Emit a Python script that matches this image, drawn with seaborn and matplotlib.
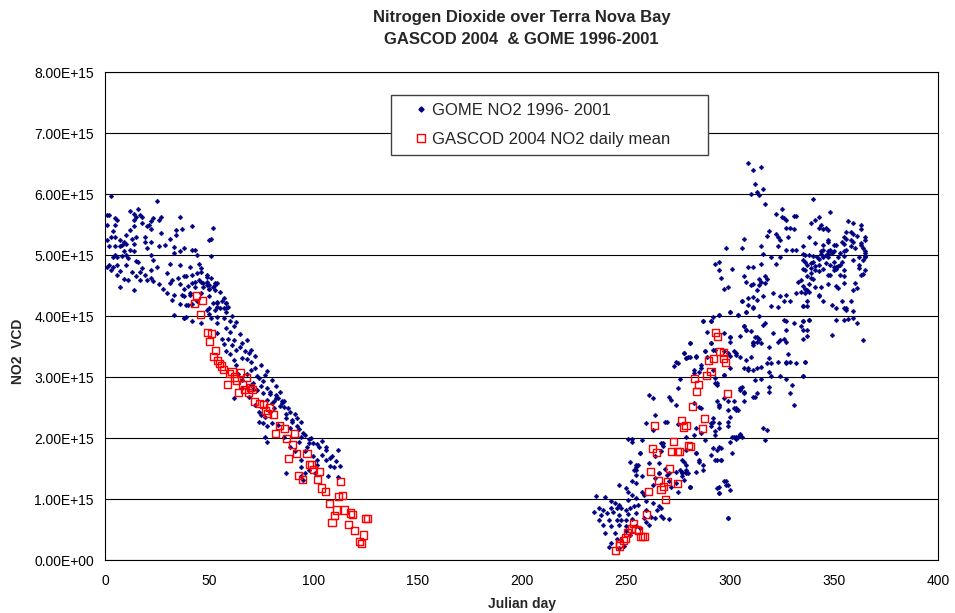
import numpy as np
import matplotlib
matplotlib.use("Agg")
import matplotlib.pyplot as plt
from matplotlib.lines import Line2D
from matplotlib.ticker import FuncFormatter
import seaborn as sns

sns.set_style("white")
plt.rcParams["font.family"] = ["Liberation Sans", "DejaVu Sans"]

SCALE = 1e15  # vertical column densities below are in units of 1e15 molec/cm2

# GOME NO2 1996-2001: Julian day and vertical column density
gome_day = [
    # summer/autumn decline, days 0-60
    3, 25, 2, 1, 12, 16, 14, 17, 15, 18, 36, 5, 6, 14, 23, 27, 26, 22, 18, 21,
    1, 5, 14, 20, 42, 34, 37, 52, 4, 12, 22, 27, 10, 3, 5, 15, 19, 31, 34, 50,
    51, 7, 13, 1, 9, 19, 22, 8, 10, 14, 26, 29, 33, 38, 42, 2, 5, 7, 20, 43,
    12, 9, 14, 33, 36, 5, 8, 10, 22, 44, 51, 4, 6, 11, 15, 16, 23, 31, 36, 41,
    45, 2, 6, 10, 18, 22, 25, 46, 46, 4, 1, 3, 7, 13, 17, 19, 22, 30, 38, 42,
    49, 6, 15, 11, 17, 20, 9, 23, 32, 35, 43, 46, 49, 50, 54, 7, 14, 26, 28, 36,
    40, 47, 50, 53, 30, 33, 37, 41, 46, 31, 32, 36, 40, 42, 54, 50, 53, 58, 58, 44,
    33, 38, 42, 46,
    # days 38-85
    39, 44, 45, 49, 51, 53, 47, 49, 42, 43, 38, 41, 38, 39, 50, 52, 53, 50, 54, 56,
    58, 52, 54, 49, 55, 57, 58, 50, 38, 39, 51, 54, 57, 60, 54, 62, 58, 60, 54, 56,
    59, 62, 61, 57, 66, 65, 63, 67, 69, 58, 60, 66, 68, 70, 62, 70, 68, 73, 76, 75,
    66, 78, 79, 82, 81, 85, 84, 80, 62, 77, 64, 66, 71, 72, 74, 63, 69, 71,
    # outer edge of the decline
    55, 57, 59, 61, 63, 65, 68, 70, 72, 75, 78, 80, 82, 84, 86, 88, 90, 93, 96, 99,
    97, 100, 103, 104, 106, 109, 111,
    # days 70-113
    70, 73, 76, 79, 82, 83, 85, 86, 78, 72, 74, 75, 77, 79, 81, 87, 89, 91, 92, 94,
    90, 87, 74, 76, 78, 80, 83, 89, 92, 95, 98, 98, 100, 102, 106, 112, 94, 93, 86, 77,
    78, 89, 91, 96, 104, 106, 108, 102, 102, 108, 110, 113, 94, 94, 87, 98, 107, 112, 101, 96,
    95, 94,
    # spring return, days 235-281
    236, 260, 269, 275, 251, 258, 253, 268, 267, 257, 277, 252, 255, 255, 256, 266, 269, 277, 279, 274,
    264, 247, 253, 255, 250, 251, 263, 272, 281, 278, 271, 258, 259, 260, 253, 255, 251, 240, 243, 245,
    247, 248, 237, 239, 243, 246, 250, 252, 254, 256, 263, 265, 266, 267, 260, 235, 238, 241, 244, 247,
    251, 255, 262, 267, 268, 264, 237, 242, 246, 248, 250, 253, 259, 271, 260, 239, 243, 247, 250, 255,
    261, 257, 240, 245, 250, 252, 246, 248, 243, 242, 247, 249,
    # days 253-315
    261, 263, 264, 263, 270, 271, 272, 274, 276, 275, 274, 275, 273, 278, 279, 280, 281, 283, 284, 285,
    286, 288, 289, 291, 292, 287, 289, 291, 295, 297, 300, 300, 304, 307, 308, 308, 309, 311, 313, 306,
    312, 311, 313, 293, 294, 297, 300, 302, 303, 308, 309, 313, 305, 307, 311, 312, 315, 294, 295, 302,
    303, 291, 292, 295, 295, 299, 301, 303, 305, 293, 284, 286, 284, 285, 284, 280, 277, 276, 279, 274,
    275, 279, 281, 294, 296, 295, 291, 301, 298, 299, 295, 295, 299, 306,
    253, 257, 255, 254, 255, 258, 261, 266, 266, 270, 271, 264, 267, 268,
    # days 277-339
    297, 299, 308, 310, 311, 314, 315, 317, 313, 321, 324, 327, 329, 332, 334, 336, 338, 333, 306, 309,
    311, 316, 320, 323, 326, 335, 337, 311, 308, 300, 304, 295, 292, 291, 287, 314, 317, 316, 321, 326,
    327, 327, 331, 335, 337, 335, 338, 307, 308, 310, 305, 300, 300, 291, 313, 314, 311, 311, 315, 310,
    305, 303, 299, 300, 297, 293, 288, 284, 281, 279, 278, 281, 319, 323, 324, 326, 327, 328, 319, 318,
    320, 323, 327, 327, 329, 332, 336, 297, 292, 286, 283, 311, 307, 309, 315, 319, 320, 324, 327, 330,
    335, 305, 306, 307, 293, 294, 297, 299, 302, 307, 303, 304, 312, 313, 319, 319, 329, 331, 285, 286,
    283, 295, 295, 299, 300, 291, 292, 293, 299, 302, 303, 304, 305, 300, 316, 318, 317, 279, 279, 283,
    288, 292, 294, 296, 296, 293, 284, 285, 287, 287, 278, 277, 279, 281, 297, 298, 300, 294, 295, 299,
    # days 292-333, high values
    309, 311, 315, 312, 316, 310, 313, 314, 317, 322, 325, 326, 327, 331, 332, 325, 319, 322, 323, 324,
    327, 329, 331, 328, 318, 307, 298, 306, 315, 323, 327, 320, 316, 324, 330, 332, 293, 295, 295, 301,
    296, 307, 309, 311, 315, 322, 314, 317, 318,
    # days 334-365
    340, 348, 343, 341, 339, 344, 343, 345, 346, 347, 338, 357, 359, 363, 363, 356, 358, 359, 361, 365,
    365, 355, 356, 358, 359, 354, 355, 363, 363, 341, 345, 347, 347, 350, 351, 360, 364, 365, 345, 347,
    348, 350, 344, 344, 346, 347, 349, 353, 355, 356, 358, 335, 335, 336, 338, 340, 342, 343, 345, 347,
    350, 352, 355, 365, 365, 365, 362, 364, 359, 335, 336, 337, 339, 340, 341, 343, 346, 348, 350, 351,
    352, 353, 354, 351, 350, 335, 336, 339, 339, 341, 343, 345, 347, 348, 353, 355, 362, 362, 365, 364,
    363, 334, 337, 340, 339, 335, 338, 341, 344, 347, 351, 352, 355, 360, 361, 359, 355, 336, 337, 343,
    343, 345, 349, 351, 354, 355, 356, 358, 359, 356, 335, 337, 335, 334, 338, 351, 355, 357, 359, 361,
    349, 335, 337, 364, 336, 335,
]
gome_vcd = [
    5.97, 5.88, 5.66, 5.65, 5.72, 5.75, 5.67, 5.65, 5.63, 5.63, 5.63, 5.60, 5.57, 5.57, 5.61, 5.63, 5.57, 5.56, 5.52, 5.50,
    5.49, 5.50, 5.48, 5.47, 5.48, 5.41, 5.43, 5.44, 5.39, 5.41, 5.43, 5.36, 5.33, 5.30, 5.30, 5.30, 5.30, 5.27, 5.33, 5.25,
    5.26, 5.25, 5.27, 5.25, 5.22, 5.22, 5.22, 5.16, 5.18, 5.18, 5.14, 5.16, 5.13, 5.11, 5.08, 5.14, 5.14, 5.14, 5.11, 5.08,
    5.08, 5.07, 5.06, 5.03, 5.06, 5.00, 4.99, 5.00, 5.00, 5.00, 4.99, 4.96, 4.96, 4.95, 4.90, 4.88, 4.92, 4.86, 4.84, 4.81,
    4.85, 4.84, 4.84, 4.84, 4.78, 4.76, 4.81, 4.78, 4.72, 4.81, 4.81, 4.76, 4.73, 4.72, 4.72, 4.67, 4.63, 4.70, 4.65, 4.67,
    4.67, 4.67, 4.65, 4.59, 4.59, 4.59, 4.61, 4.58, 4.59, 4.62, 4.56, 4.56, 4.56, 4.51, 4.54, 4.47, 4.43, 4.52, 4.45, 4.52,
    4.50, 4.48, 4.44, 4.51, 4.37, 4.35, 4.35, 4.37, 4.37, 4.54, 4.26, 4.19, 4.18, 4.19, 4.22, 4.13, 4.10, 4.21, 4.13, 4.24,
    4.02, 3.97, 3.91, 3.89,
    4.66, 4.70, 4.59, 4.64, 4.63, 4.54, 4.54, 4.51, 4.54, 4.48, 4.45, 4.34, 4.32, 4.18, 4.45, 4.48, 4.43, 4.33, 4.23, 4.25,
    4.21, 4.21, 4.15, 4.10, 4.13, 4.13, 4.07, 4.04, 3.96, 3.99, 3.96, 3.99, 3.96, 3.91, 3.88, 3.83, 3.80, 3.74, 3.72, 3.63,
    3.62, 3.60, 3.53, 3.54, 3.55, 3.49, 3.44, 3.42, 3.39, 3.42, 3.38, 3.31, 3.29, 3.24, 3.28, 3.12, 3.05, 3.01, 2.94, 2.85,
    2.82, 2.82, 2.72, 2.65, 2.61, 2.60, 2.52, 2.57, 2.65, 3.03, 3.05, 2.95, 2.90, 3.15, 2.98, 3.20, 2.68, 2.80,
    4.40, 4.30, 4.15, 4.00, 3.90, 3.70, 3.60, 3.45, 3.35, 3.20, 3.10, 2.95, 2.85, 2.75, 2.60, 2.50, 2.30, 2.15, 2.05, 2.00,
    1.85, 1.70, 1.85, 1.95, 1.80, 1.70, 1.62,
    2.87, 2.79, 2.73, 2.76, 2.71, 2.65, 2.57, 2.51, 2.62, 2.54, 2.43, 2.38, 2.35, 2.43, 2.49, 2.40, 2.43, 2.40, 2.32, 2.27,
    2.27, 2.32, 2.27, 2.24, 2.19, 2.24, 2.21, 2.16, 2.19, 2.08, 1.99, 1.91, 1.91, 1.90, 1.86, 1.80, 2.02, 1.94, 2.02, 2.01,
    1.94, 1.86, 1.79, 1.78, 1.72, 1.64, 1.67, 1.64, 1.56, 1.54, 1.52, 1.54, 1.64, 1.53, 1.43, 1.48, 1.38, 1.36, 1.42, 1.43,
    1.31, 1.37,
    1.05, 2.25, 2.27, 2.23, 1.99, 1.97, 1.94, 1.91, 1.78, 1.75, 1.64, 1.61, 1.53, 1.48, 1.56, 1.42, 1.50, 1.42, 1.48, 1.45,
    1.34, 1.23, 1.29, 1.26, 1.18, 1.12, 1.23, 1.20, 1.20, 1.31, 1.29, 1.12, 1.07, 0.96, 1.07, 1.01, 0.99, 1.04, 0.96, 0.93,
    0.90, 0.86, 0.86, 0.82, 0.85, 0.85, 0.82, 0.85, 0.89, 0.90, 0.93, 0.82, 0.89, 0.86, 0.82, 0.79, 0.74, 0.77, 0.78, 0.74,
    0.76, 0.77, 0.71, 0.72, 0.69, 0.69, 0.65, 0.66, 0.66, 0.66, 0.66, 0.67, 0.69, 0.67, 0.63, 0.58, 0.55, 0.58, 0.55, 0.55,
    0.58, 0.52, 0.44, 0.44, 0.47, 0.41, 0.34, 0.33, 0.28, 0.22, 0.19, 0.23,
    2.71, 2.65, 2.38, 2.13, 2.27, 2.68, 2.62, 2.54, 2.96, 2.82, 3.25, 3.23, 3.18, 3.39, 3.31, 3.33, 3.55, 3.12, 3.33, 3.09,
    3.20, 3.42, 3.33, 3.55, 3.44, 3.91, 3.74, 3.91, 4.02, 3.72, 3.66, 4.07, 4.02, 3.83, 4.07, 3.77, 4.18, 4.13, 4.26, 4.25,
    3.66, 3.55, 3.58, 2.98, 2.90, 3.03, 3.14, 3.42, 3.39, 3.28, 3.14, 3.14, 2.79, 2.76, 2.68, 2.95, 3.17, 2.60, 2.54, 2.49,
    2.46, 2.24, 2.32, 2.24, 2.16, 2.27, 2.02, 2.02, 2.05, 2.11, 2.16, 2.08, 1.75, 1.64, 1.45, 1.42, 1.37, 1.48, 1.45, 1.26,
    1.12, 1.56, 1.20, 1.64, 1.64, 1.86, 1.72, 1.75, 1.29, 1.23, 1.20, 1.10, 0.69, 2.02,
    1.99, 1.75, 1.56, 1.48, 1.40, 1.37, 1.59, 1.59, 1.42, 1.40, 1.42, 1.70, 1.91, 1.87,
    4.45, 4.47, 4.56, 4.51, 4.52, 4.51, 4.55, 4.54, 4.43, 4.37, 4.33, 4.34, 4.25, 4.37, 4.40, 4.44, 4.40, 4.56, 4.25, 4.29,
    4.31, 4.32, 4.16, 4.15, 4.25, 4.16, 4.25, 4.14, 4.07, 4.07, 4.02, 4.02, 3.98, 3.91, 3.92, 4.00, 3.88, 3.85, 3.72, 3.93,
    3.91, 3.77, 3.88, 3.91, 3.77, 3.77, 3.93, 3.83, 3.77, 3.76, 3.67, 3.66, 3.58, 3.56, 3.66, 3.63, 3.58, 3.53, 3.55, 3.33,
    3.33, 3.36, 3.39, 3.35, 3.42, 3.44, 3.43, 3.35, 3.33, 3.31, 3.39, 3.56, 3.50, 3.58, 3.61, 3.63, 3.58, 3.38, 3.31, 3.23,
    3.23, 3.25, 3.25, 3.23, 3.25, 3.23, 3.25, 3.03, 3.12, 3.14, 3.07, 3.12, 3.14, 3.12, 2.96, 3.09, 3.01, 3.01, 2.97, 2.87,
    3.01, 2.82, 2.84, 2.74, 2.90, 2.87, 2.65, 2.60, 2.60, 2.60, 2.49, 2.46, 2.68, 2.73, 2.84, 2.76, 2.73, 2.54, 2.51, 2.49,
    2.57, 2.54, 2.51, 2.46, 2.35, 2.19, 2.27, 2.05, 2.19, 2.02, 1.99, 2.02, 2.07, 1.94, 2.16, 2.13, 1.97, 2.02, 1.80, 2.05,
    1.97, 1.83, 1.80, 1.83, 1.64, 1.64, 1.75, 1.61, 1.56, 1.48, 1.61, 1.45, 1.43, 1.20, 1.29, 1.23, 1.15, 1.18, 1.10, 0.69,
    6.51, 6.39, 6.44, 6.16, 6.09, 6.00, 6.04, 5.98, 5.84, 5.67, 5.75, 5.60, 5.57, 5.64, 5.64, 5.63, 5.39, 5.35, 5.29, 5.25,
    5.44, 5.45, 5.42, 5.29, 5.31, 5.26, 5.11, 5.12, 5.15, 5.14, 5.09, 4.97, 5.02, 4.96, 5.08, 5.08, 4.86, 4.88, 4.75, 4.77,
    4.62, 4.65, 4.81, 4.80, 4.85, 4.86, 4.60, 4.66, 4.60,
    5.91, 5.71, 5.63, 5.57, 5.52, 5.49, 5.44, 5.42, 5.44, 5.41, 5.30, 5.56, 5.52, 5.49, 5.42, 5.38, 5.37, 5.35, 5.31, 5.30,
    5.24, 5.30, 5.27, 5.24, 5.22, 5.22, 5.18, 5.19, 5.17, 5.19, 5.17, 5.24, 5.22, 5.17, 5.17, 5.11, 5.11, 5.06, 5.08, 5.06,
    5.08, 5.07, 5.06, 5.02, 5.00, 5.02, 5.03, 5.03, 5.06, 5.08, 5.14, 5.14, 5.02, 5.00, 5.00, 4.99, 4.97, 4.93, 4.96, 4.96,
    4.89, 4.96, 4.99, 5.04, 4.99, 4.96, 4.96, 4.92, 4.92, 4.92, 4.89, 4.84, 4.87, 4.89, 4.82, 4.84, 4.87, 4.84, 4.80, 4.81,
    4.82, 4.84, 4.89, 4.77, 4.76, 4.77, 4.75, 4.78, 4.70, 4.76, 4.73, 4.77, 4.67, 4.67, 4.67, 4.76, 4.84, 4.78, 4.75, 4.69,
    4.67, 4.59, 4.65, 4.60, 4.62, 4.49, 4.53, 4.48, 4.47, 4.53, 4.49, 4.46, 4.54, 4.54, 4.46, 4.42, 4.65, 4.37, 4.43, 4.35,
    4.33, 4.24, 4.18, 4.13, 4.24, 4.13, 4.13, 4.24, 4.08, 4.10, 4.16, 4.16, 3.91, 3.84, 3.93, 3.93, 3.93, 3.95, 3.96, 3.88,
    3.69, 3.62, 3.67, 3.60, 3.25, 3.01,
]

# GASCOD 2004 NO2 daily means
gascod_day = [
    44, 47, 43, 46, 49, 51, 50, 53, 52, 54, 56, 57, 61, 65, 62, 68, 59, 66, 70, 64,
    72, 74, 77, 79, 81, 84, 82, 86, 87, 91, 90, 88, 92, 97, 93, 95, 98, 100, 102, 104,
    106, 113, 112, 108, 111, 115, 118, 110, 109, 117, 120, 124, 122, 123, 125, 126,
    55, 60, 63, 67, 69, 76, 78, 71, 99, 103, 114, 119,
    293, 294, 295, 297, 297, 298, 290, 292, 291, 289, 283, 285, 284, 299, 282, 288, 287, 277, 279, 278,
    264, 273, 280, 281, 263, 265, 272, 275, 276, 271, 262, 266, 268, 267, 270, 275, 261, 269, 260, 254,
    253, 255, 256, 258, 257, 259, 251, 250, 249, 247, 247, 245,
]
gascod_vcd = [
    4.34, 4.26, 4.21, 4.02, 3.73, 3.72, 3.58, 3.43, 3.34, 3.27, 3.18, 3.13, 3.09, 3.07, 3.00, 2.99, 2.88, 2.87, 2.83, 2.74,
    2.60, 2.57, 2.45, 2.50, 2.38, 2.21, 2.07, 2.16, 1.99, 2.07, 1.89, 1.67, 1.74, 1.75, 1.39, 1.32, 1.56, 1.48, 1.32, 1.18,
    1.12, 1.28, 1.04, 0.93, 0.82, 0.82, 0.77, 0.73, 0.61, 0.58, 0.48, 0.41, 0.30, 0.27, 0.68, 0.68,
    3.22, 3.05, 2.95, 2.80, 2.75, 2.55, 2.40, 2.79, 1.56, 1.45, 1.05, 0.74,
    3.73, 3.66, 3.42, 3.40, 3.31, 3.24, 3.27, 3.31, 3.09, 3.02, 2.98, 2.88, 2.76, 2.73, 2.52, 2.32, 2.16, 2.28, 2.20, 2.18,
    2.20, 1.94, 1.87, 1.86, 1.83, 1.76, 1.78, 1.78, 1.78, 1.50, 1.45, 1.30, 1.21, 1.15, 1.28, 1.26, 1.12, 0.99, 0.75, 0.60,
    0.52, 0.50, 0.48, 0.39, 0.38, 0.39, 0.45, 0.36, 0.32, 0.27, 0.23, 0.16,
]

gome_label = "GOME NO2 1996- 2001"
gascod_label = "GASCOD 2004 NO2 daily mean"
x_ticks = [0, 50, 100, 150, 200, 250, 300, 350, 400]
y_ticks = [0, 1, 2, 3, 4, 5, 6, 7, 8]

fig = plt.figure(figsize=(9.55, 6.13), dpi=100)
ax = fig.add_axes([0.10995, 0.08646, 0.87225, 0.79608])

sns.scatterplot(x=np.array(gome_day), y=np.array(gome_vcd) * SCALE, ax=ax,
                marker="D", s=6, color="#000080", edgecolor="#000080",
                linewidth=0.3, legend=False, zorder=3)
sns.scatterplot(x=np.array(gascod_day), y=np.array(gascod_vcd) * SCALE, ax=ax,
                marker="s", s=26, facecolor="none", edgecolor="#ff0000",
                linewidth=1.0, legend=False, zorder=4)

ax.set_xlim(x_ticks[0], x_ticks[-1])
ax.set_ylim(y_ticks[0] * SCALE, y_ticks[-1] * SCALE)
ax.set_xticks(x_ticks)
ax.set_yticks([v * SCALE for v in y_ticks])
ax.yaxis.set_major_formatter(FuncFormatter(lambda v, _: f"{v:.2E}"))
ax.tick_params(axis="both", direction="out", length=4, width=0.8,
               color="black", labelsize=10, labelcolor="black")
ax.tick_params(axis="y", pad=4)
ax.tick_params(axis="x", pad=6)
ax.yaxis.grid(True, color="black", linewidth=0.8)
ax.xaxis.grid(False)
ax.set_axisbelow(True)
for sp in ax.spines.values():
    sp.set_color("black")
    sp.set_linewidth(0.8)
ax.set_xlabel("")
ax.set_ylabel("")

fig.text(0.5461, 0.972, "Nitrogen Dioxide over Terra Nova Bay", ha="center",
         va="center", fontsize=12, fontweight="bold")
fig.text(0.5461, 0.935, "GASCOD 2004  & GOME 1996-2001", ha="center",
         va="center", fontsize=12, fontweight="bold")
fig.text(0.0188, 0.427, "NO2  VCD", rotation=90, ha="center", va="center",
         fontsize=10, fontweight="bold")
fig.text(0.5461, 0.0147, "Julian day", ha="center", va="center",
         fontsize=10, fontweight="bold")

handles = [
    Line2D([], [], linestyle="none", marker="D", markersize=2.6,
           color="#000080", label=gome_label),
    Line2D([], [], linestyle="none", marker="s", markersize=5.2,
           markerfacecolor="none", markeredgecolor="#ff0000",
           markeredgewidth=1.0, label=gascod_label),
]
leg = ax.legend(handles=handles, loc="upper left",
                bbox_to_anchor=(0.343, 0.824, 0.381, 0.129), mode="expand",
                fontsize=12, frameon=True, fancybox=False, framealpha=1,
                edgecolor="#404040", borderpad=0.5, labelspacing=0.8,
                handlelength=2.6, handletextpad=-0.64, borderaxespad=0)
leg.get_frame().set_linewidth(1.0)
leg.set_zorder(5)

fig.savefig("out.png", dpi=100)
